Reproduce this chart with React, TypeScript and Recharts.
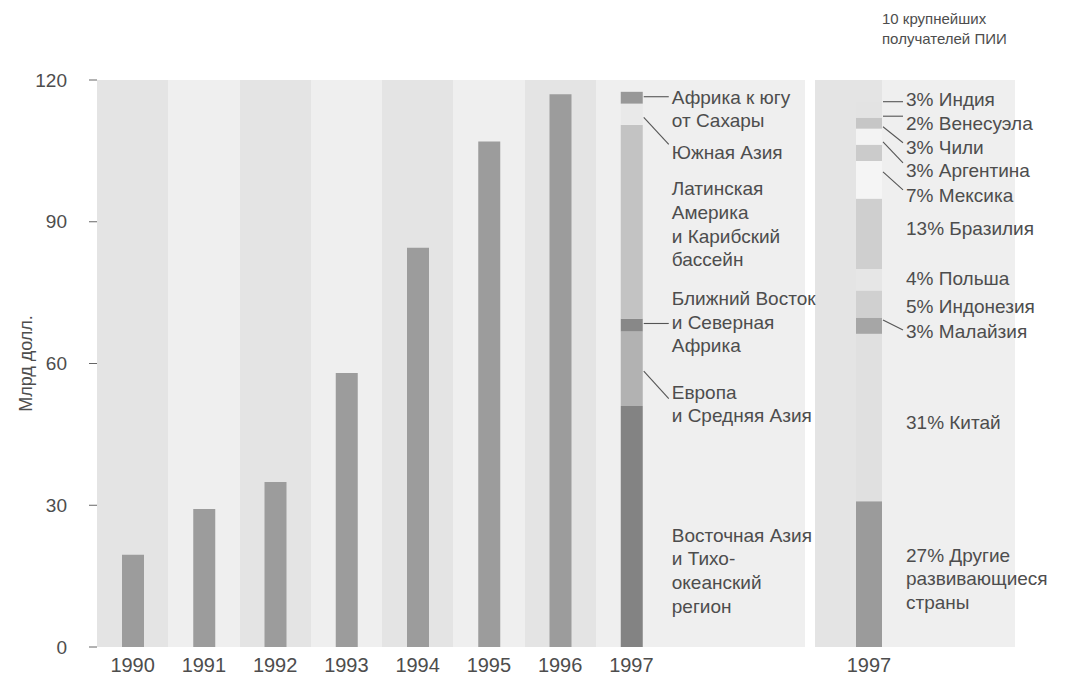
import { BarChart, Bar, XAxis, YAxis, CartesianGrid, LabelList } from "recharts";

// ---- data ----
const years = ["1990", "1991", "1992", "1993", "1994", "1995", "1996", "1997"];
const yearTotals = [19.5, 29.2, 34.9, 58, 84.5, 107, 117, null];

const regionKeys = ["eastAsia", "europe", "mideast", "latam", "southAsia", "africa"];
const regionNames = [
  ["Восточная Азия", "и Тихо-", "океанский", "регион"],
  ["Европа", "и Средняя Азия"],
  ["Ближний Восток", "и Северная", "Африка"],
  ["Латинская", "Америка", "и Карибский", "бассейн"],
  ["Южная Азия"],
  ["Африка к югу", "от Сахары"],
];
const regions1997 = [51, 15.8, 2.7, 41, 4.5, 2.5];

const countryKeys = ["other", "china", "malaysia", "indonesia", "poland", "brazil", "mexico", "argentina", "chile", "venezuela", "india"];
const countryNames = [
  ["Другие", "развивающиеся", "страны"],
  ["Китай"],
  ["Малайзия"],
  ["Индонезия"],
  ["Польша"],
  ["Бразилия"],
  ["Мексика"],
  ["Аргентина"],
  ["Чили"],
  ["Венесуэла"],
  ["Индия"],
];
const countryShares = [27, 31, 3, 5, 4, 13, 7, 3, 3, 2, 3];

const yTicks = [0, 30, 60, 90, 120];
const rightCategories = ["1997"];

// ---- styling ----
const FONT = "'Liberation Sans', Arial, sans-serif";
const INK = "#4d4d4d";
const FS = 19;
const LINE_H = 23.7;

const totalColor = "#9c9c9c";
const regionColors = ["#838383", "#b2b2b2", "#888888", "#c3c3c3", "#e9e9e9", "#989898"];
const countryColors = ["#9b9b9b", "#e0e0e0", "#a6a6a6", "#d0d0d0", "#e6e6e6", "#cfcfcf", "#f5f5f5", "#cbcbcb", "#f3f3f3", "#c6c6c6", "#e3e3e3"];
const stripeDark = "#e4e4e4";
const stripeLight = "#efefef";

const LEFT_PAD = { left: 0, right: 138 };
const RIGHT_PAD = { left: 41, right: 133 };

type Note = { textDy: number; leader?: [number, number] };
// label placement relative to the centre of each segment
const regionNotes: Note[] = [
  { textDy: 8.5 },
  { textDy: 23.5, leader: [2.5, 30] },
  { textDy: -26.5, leader: [-1.5, -1.5] },
  { textDy: -33 },
  { textDy: 38.5, leader: [3, 30] },
  { textDy: -0.5, leader: [-1, -1] },
];
const countryNotes: Note[] = [
  { textDy: -19 },
  { textDy: 4.5 },
  { textDy: 5.3, leader: [-5.7, 4.3] },
  { textDy: 1.9 },
  { textDy: -0.9 },
  { textDy: -5 },
  { textDy: 16, leader: [-8, 10] },
  { textDy: 18, leader: [-11, 10] },
  { textDy: 11.2, leader: [-10, 6] },
  { textDy: 0.7, leader: [-7, -7] },
  { textDy: -9.8, leader: [-8, -8] },
];

const leftRows = years.map((year, i) => {
  const row: Record<string, string | number | null> = { year, total: yearTotals[i] };
  regionKeys.forEach((k, j) => {
    row[k] = year === "1997" ? regions1997[j] : null;
  });
  return row;
});

const rightRows = rightCategories.map((cat) => {
  const row: Record<string, string | number | null> = { cat };
  countryKeys.forEach((k, j) => {
    row[k] = countryShares[j];
  });
  return row;
});

function noteContent(lines: string[], note: Note, gap: number) {
  return (props: any) => {
    const vb = props.viewBox ?? props;
    const x = vb.x ?? props.x;
    const y = vb.y ?? props.y;
    const width = vb.width ?? props.width;
    const height = vb.height ?? props.height;
    if (props.value == null || !height) return null;
    const cy = y + Math.abs(height) / 2 + (height < 0 ? height : 0);
    const right = x + width;
    const tx = right + gap;
    return (
      <g>
        {note.leader && (
          <line
            x1={right + 1}
            y1={cy + note.leader[0]}
            x2={tx - 3}
            y2={cy + note.leader[1]}
            stroke="#555"
            strokeWidth={1.1}
          />
        )}
        {lines.map((ln, i) => (
          <text
            key={i}
            x={tx}
            y={cy + note.textDy + i * LINE_H}
            dominantBaseline="central"
            fontFamily={FONT}
            fontSize={FS}
            fill={INK}
          >
            {ln}
          </text>
        ))}
      </g>
    );
  };
}

// band starts of a category axis, taken from the plot offset and the axis padding
function bandStarts(offset: any, cats: string[], pad: { left: number; right: number }) {
  const bw = (offset.width - pad.left - pad.right) / cats.length;
  return { bw, starts: cats.map((_, i) => offset.left + pad.left + i * bw) };
}

// stripes start at each year's band; the last one runs on under the labels
const leftStripes = ({ offset }: any) => bandStarts(offset, years, LEFT_PAD).starts;
const rightStripes = ({ offset }: any) => {
  const { bw, starts } = bandStarts(offset, rightCategories, RIGHT_PAD);
  return [offset.left, starts[0] + bw];
};

const xTick = { fill: INK, fontSize: 20, fontFamily: FONT };
const yTick = { fill: INK, fontSize: FS, fontFamily: FONT, textAnchor: "end" };

export default function App() {
  return (
    <div style={{ position: "absolute", left: 0, top: 0, width: 1070, height: 678, background: "#fff", overflow: "hidden" }}>
      <div style={{ position: "absolute", left: 0, top: 0 }}>
        <BarChart width={1070} height={678} data={rightRows} margin={{ top: 80, right: 55, bottom: 0, left: 815 }} barCategoryGap={0}>
          <CartesianGrid
            horizontal={false}
            stroke="none"
            verticalFill={[stripeDark, stripeLight]}
            fillOpacity={1}
            verticalCoordinatesGenerator={rightStripes}
          />
          <XAxis dataKey="cat" tickLine={false} axisLine={false} height={31} tick={xTick} tickMargin={5} padding={RIGHT_PAD} />
          <YAxis hide domain={[0, 105]} />
          {countryKeys.map((k, j) => (
            <Bar key={k} dataKey={k} stackId="c" fill={countryColors[j]} isAnimationActive={false}>
              <LabelList dataKey={k} content={noteContent([`${countryShares[j]}% ${countryNames[j][0]}`, ...countryNames[j].slice(1)], countryNotes[j], 24)} />
            </Bar>
          ))}
        </BarChart>
      </div>
      <div style={{ position: "absolute", left: 0, top: 0 }}>
        <BarChart width={860} height={678} data={leftRows} margin={{ top: 80, right: 55, bottom: 0, left: 0 }}>
          <CartesianGrid
            horizontal={false}
            stroke="none"
            verticalFill={[stripeDark, stripeLight]}
            fillOpacity={1}
            verticalCoordinatesGenerator={leftStripes}
          />
          <XAxis dataKey="year" tickLine={false} axisLine={false} height={31} tick={xTick} tickMargin={5} padding={LEFT_PAD} />
          <YAxis
            width={97}
            domain={[0, 120]}
            ticks={yTicks}
            axisLine={false}
            tickSize={8}
            tickMargin={22}
            tickLine={{ stroke: "#666" }}
            tick={yTick}
            label={{ value: "Млрд долл.", angle: -90, position: "insideLeft", dx: 21, style: { textAnchor: "middle", fill: INK, fontSize: 18, fontFamily: FONT } }}
          />
          <Bar dataKey="total" stackId="a" fill={totalColor} barSize={22} isAnimationActive={false} />
          {regionKeys.map((k, j) => (
            <Bar key={k} dataKey={k} stackId="a" fill={regionColors[j]} barSize={22} isAnimationActive={false}>
              <LabelList dataKey={k} content={noteContent(regionNames[j], regionNotes[j], 29)} />
            </Bar>
          ))}
        </BarChart>
      </div>
      <div style={{ position: "absolute", left: 882, top: 9, fontFamily: FONT, fontSize: 15, lineHeight: "20px", color: INK }}>
        10 крупнейших
        <br />
        получателей ПИИ
      </div>
    </div>
  );
}
